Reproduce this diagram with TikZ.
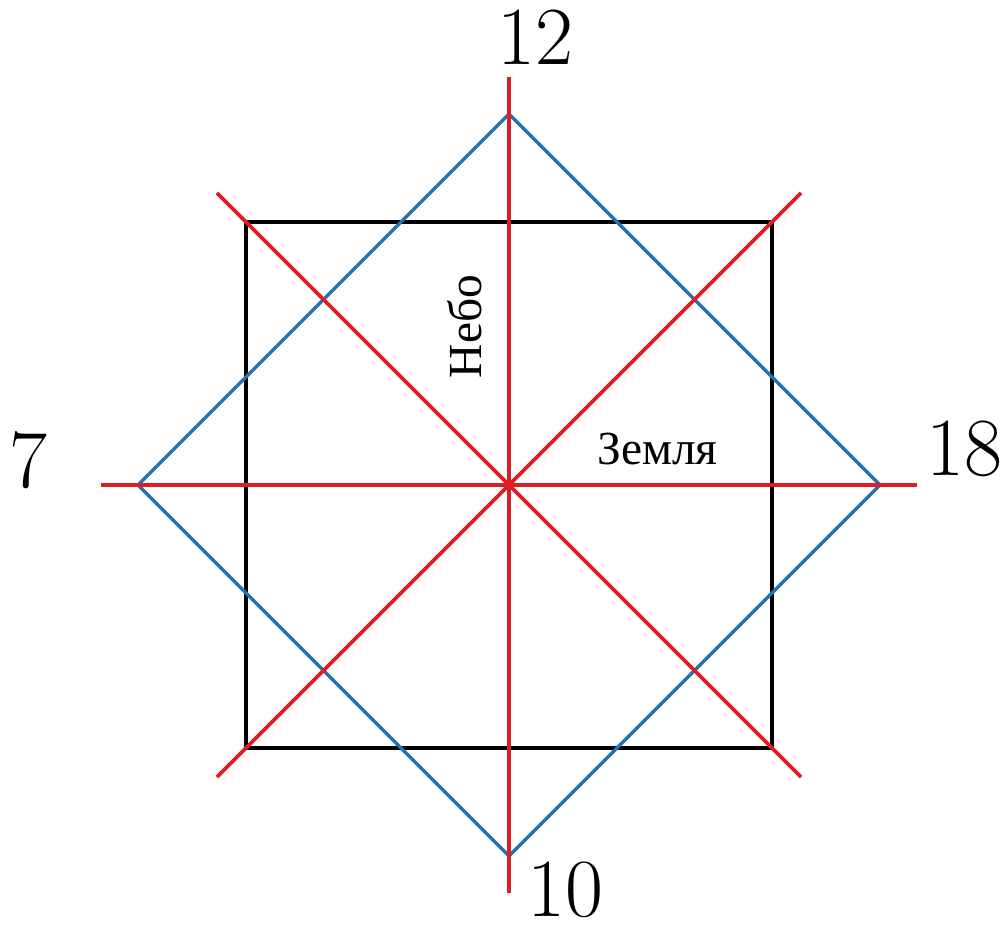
\documentclass[tikz,border=0pt]{standalone}
\usepackage{fontspec}
\newfontfamily\cyrfont{Liberation Serif}
\usetikzlibrary{math}
\definecolor{myred}{RGB}{222,30,36}
\definecolor{myblue}{RGB}{36,115,175}

\begin{document}
\begin{tikzpicture}[
  hour/.style={font=\fontsize{23.5}{28}\selectfont, inner sep=0pt},
  word/.style={font=\cyrfont\fontsize{13.5}{16}\selectfont, inner sep=0pt}
]
\tikzmath{
\a=2.63;
\d=3.71;
\r=4.08;
\q=2.92;
}
\useasboundingbox (-5.09,-4.45) rectangle (4.96,4.85);
%square
\draw[line width=1.1pt] (-\a,-\a) rectangle (\a,\a);
%diamond
\draw[color=myblue, line width=1pt] (0,\d) -- (\d,0) -- (0,-\d) -- (-\d,0) -- cycle;
%cross
\draw[color=myred, line width=1.1pt] (0,\r) -- (0,-\r);
\draw[color=myred, line width=1.1pt] (-\r,0) -- (\r,0);
\draw[color=myred, line width=1.1pt] (-\q,\q) -- (\q,-\q);
\draw[color=myred, line width=1.1pt] (-\q,-\q) -- (\q,\q);
%labels
\node[hour] (top) at (0.26,4.48) {12};
\node[hour] (bottom) at (0.56,-4.05) {10};
\node[hour] (left) at (-4.81,0.25) {7};
\node[hour] (right) at (4.55,0.36) {18};
\node[word, anchor=base] (sky) at (1.485,0.20) {Земля};
\node[word, anchor=base, rotate=90] (earth) at (-0.27,1.585) {Небо};
\end{tikzpicture}
\end{document}
